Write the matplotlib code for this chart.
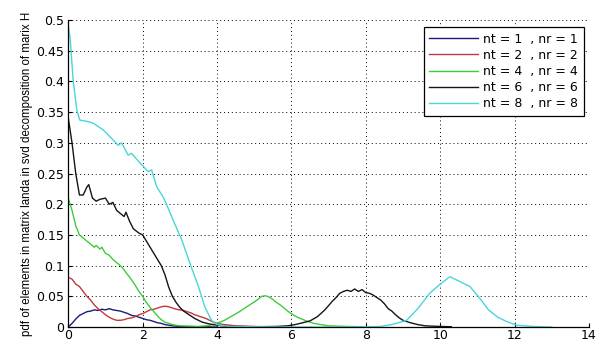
#!/usr/bin/env python
# coding=utf-8
"""
PDF of the singular values of the channel matrix H for several
antenna configurations (nt transmit, nr receive).
"""
import matplotlib
matplotlib.use('Agg')
import matplotlib.pyplot as plt

plt.rcParams['font.family'] = ['DejaVu Sans']

# nt = 1, nr = 1
x_1 = [0, 0.1, 0.2, 0.3, 0.4, 0.5, 0.6, 0.7, 0.8, 0.9, 1.0, 1.1, 1.2, 1.3,
       1.4, 1.5, 1.6, 1.7, 1.8, 1.9, 2.0, 2.1, 2.2, 2.3, 2.4, 2.5, 2.6, 2.8,
       3.0, 3.5, 4.0]
pdf_1 = [0, 0.006, 0.013, 0.019, 0.022, 0.025, 0.026, 0.028, 0.027, 0.029,
         0.028, 0.030, 0.028, 0.027, 0.026, 0.024, 0.022, 0.019, 0.018, 0.016,
         0.014, 0.012, 0.011, 0.009, 0.007, 0.006, 0.004, 0.002, 0.001,
         0.0005, 0.0]

# nt = 2, nr = 2
x_2 = [0, 0.1, 0.2, 0.3, 0.4, 0.5, 0.6, 0.7, 0.8, 0.9, 1.0, 1.1, 1.2, 1.3,
       1.4, 1.5, 1.6, 1.7, 1.8, 1.9, 2.0, 2.1, 2.2, 2.3, 2.4, 2.5, 2.6, 2.7,
       2.8, 2.9, 3.0, 3.1, 3.2, 3.3, 3.4, 3.5, 3.6, 3.7, 3.8, 3.9, 4.0, 4.2,
       4.5, 5.0, 5.5]
pdf_2 = [0.081, 0.078, 0.070, 0.066, 0.058, 0.050, 0.044, 0.036, 0.030,
         0.025, 0.020, 0.016, 0.013, 0.011, 0.011, 0.012, 0.014, 0.015,
         0.017, 0.020, 0.022, 0.025, 0.028, 0.029, 0.031, 0.033, 0.034,
         0.033, 0.031, 0.029, 0.028, 0.027, 0.025, 0.023, 0.020, 0.018,
         0.016, 0.014, 0.011, 0.008, 0.006, 0.004, 0.002, 0.001, 0.0]

# nt = 4, nr = 4
x_4 = [0, 0.1, 0.2, 0.3, 0.4, 0.5, 0.6, 0.7, 0.75, 0.85, 0.9, 1.0, 1.1, 1.2,
       1.3, 1.4, 1.5, 1.6, 1.7, 1.8, 1.9, 2.0, 2.1, 2.2, 2.3, 2.4, 2.5, 2.6,
       2.8, 3.0, 3.5, 3.7, 3.9, 4.0, 4.2, 4.4, 4.6, 4.8, 5.0, 5.1, 5.2, 5.3,
       5.4, 5.5, 5.6, 5.7, 5.8, 5.9, 6.0, 6.1, 6.2, 6.4, 6.6, 6.8, 7.0, 7.5,
       8.0]
pdf_4 = [0.210, 0.190, 0.165, 0.150, 0.145, 0.140, 0.135, 0.130, 0.133,
         0.127, 0.130, 0.120, 0.117, 0.110, 0.105, 0.100, 0.093, 0.085,
         0.077, 0.068, 0.058, 0.050, 0.040, 0.032, 0.025, 0.018, 0.012,
         0.008, 0.004, 0.002, 0.001, 0.002, 0.004, 0.006, 0.011, 0.018,
         0.025, 0.033, 0.041, 0.045, 0.050, 0.051, 0.049, 0.045, 0.040,
         0.036, 0.031, 0.026, 0.022, 0.018, 0.015, 0.010, 0.006, 0.004,
         0.002, 0.001, 0.0005]

# nt = 6, nr = 6
x_6 = [0, 0.1, 0.2, 0.3, 0.4, 0.5, 0.55, 0.65, 0.75, 0.85, 1.0, 1.1, 1.2,
       1.3, 1.4, 1.5, 1.55, 1.65, 1.75, 1.9, 2.0, 2.1, 2.2, 2.3, 2.4, 2.5,
       2.6, 2.7, 2.8, 2.9, 3.0, 3.1, 3.2, 3.3, 3.4, 3.5, 3.6, 3.8, 4.0, 4.3,
       5.0, 5.6, 5.9, 6.1, 6.3, 6.5, 6.7, 6.9, 7.0, 7.1, 7.2, 7.3, 7.4, 7.5,
       7.6, 7.7, 7.8, 7.9, 8.0, 8.1, 8.2, 8.3, 8.4, 8.5, 8.6, 8.7, 8.8, 8.9,
       9.0, 9.2, 9.4, 9.6, 10.0, 10.3]
pdf_6 = [0.340, 0.300, 0.250, 0.215, 0.215, 0.228, 0.232, 0.210, 0.205,
         0.208, 0.210, 0.200, 0.203, 0.190, 0.185, 0.180, 0.187, 0.172,
         0.160, 0.153, 0.150, 0.140, 0.130, 0.120, 0.110, 0.100, 0.085,
         0.065, 0.050, 0.040, 0.032, 0.026, 0.022, 0.018, 0.014, 0.011,
         0.008, 0.005, 0.003, 0.001, 0.0005, 0.001, 0.002, 0.004, 0.007,
         0.010, 0.017, 0.028, 0.035, 0.042, 0.048, 0.055, 0.058, 0.060,
         0.058, 0.062, 0.058, 0.061, 0.056, 0.055, 0.052, 0.048, 0.044,
         0.038, 0.030, 0.026, 0.020, 0.015, 0.011, 0.007, 0.004, 0.002,
         0.001, 0.0005]

# nt = 8, nr = 8
x_8 = [0, 0.05, 0.13, 0.23, 0.31, 0.5, 0.67, 0.94, 1.12, 1.34, 1.43, 1.61,
       1.7, 1.93, 2.15, 2.24, 2.38, 2.55, 2.64, 2.82, 3.05, 3.27, 3.5, 3.67,
       3.85, 4.0, 4.3, 5.0, 6.0, 7.0, 8.0, 8.4, 8.7, 9.1, 9.4, 9.72, 10.0,
       10.26, 10.5, 10.8, 11.05, 11.3, 11.55, 11.79, 12.05, 12.5, 13.0]
pdf_8 = [0.490, 0.470, 0.402, 0.353, 0.337, 0.335, 0.332, 0.321, 0.310,
         0.296, 0.300, 0.280, 0.283, 0.267, 0.253, 0.256, 0.228, 0.212,
         0.200, 0.174, 0.142, 0.104, 0.066, 0.033, 0.011, 0.004, 0.001,
         0.0005, 0.0, 0.0, 0.0005, 0.001, 0.004, 0.011, 0.030, 0.055,
         0.070, 0.082, 0.075, 0.066, 0.048, 0.028, 0.016, 0.009, 0.003,
         0.001, 0.0]

series = [(x_1, pdf_1, '#1c1c7a', 'nt = 1  , nr = 1'),
          (x_2, pdf_2, '#c03a3a', 'nt = 2  , nr = 2'),
          (x_4, pdf_4, '#3ccc3c', 'nt = 4  , nr = 4'),
          (x_6, pdf_6, '#151515', 'nt = 6  , nr = 6'),
          (x_8, pdf_8, '#48d6d6', 'nt = 8  , nr = 8')]


def main():
    fig = plt.figure(figsize=(5.96, 3.45), dpi=100)
    ax = fig.add_axes([0.1146, 0.052, 0.8735, 0.890])

    for x, y, color, label in series:
        ax.plot(x, y, color=color, lw=1.0, label=label)

    ax.set_xlim(0, 14)
    ax.set_ylim(0, 0.5)
    ax.set_xticks(range(0, 15, 2))
    ax.set_yticks([i * 0.05 for i in range(11)])
    ax.set_yticklabels(['0', '0.05', '0.1', '0.15', '0.2', '0.25', '0.3',
                        '0.35', '0.4', '0.45', '0.5'])
    ax.tick_params(direction='in', length=3, width=0.8, labelsize=9,
                   pad=3, colors='black')
    ax.tick_params(axis='x', pad=1.5)
    ax.grid(True, color='black', linestyle=(0, (1, 3)), linewidth=0.7)
    ax.set_axisbelow(True)
    for side in ('top', 'right'):
        ax.spines[side].set_visible(False)
    for side in ('left', 'bottom'):
        ax.spines[side].set_linewidth(0.9)

    ax.set_ylabel("pdf of elements in matrix landa in svd decomposition "
                  "of marix H", fontsize=8.3, family='Liberation Sans',
                  labelpad=2)

    leg = ax.legend(loc='upper right', bbox_to_anchor=(0.99, 0.977),
                    borderaxespad=0, fontsize=9, fancybox=False,
                    framealpha=1, edgecolor='black', handlelength=3.9,
                    handletextpad=0.4, labelspacing=0.25, borderpad=0.45)
    leg.get_frame().set_linewidth(0.9)

    fig.savefig('out.png', dpi=100)
    plt.close('all')


if __name__ == '__main__':
    main()
